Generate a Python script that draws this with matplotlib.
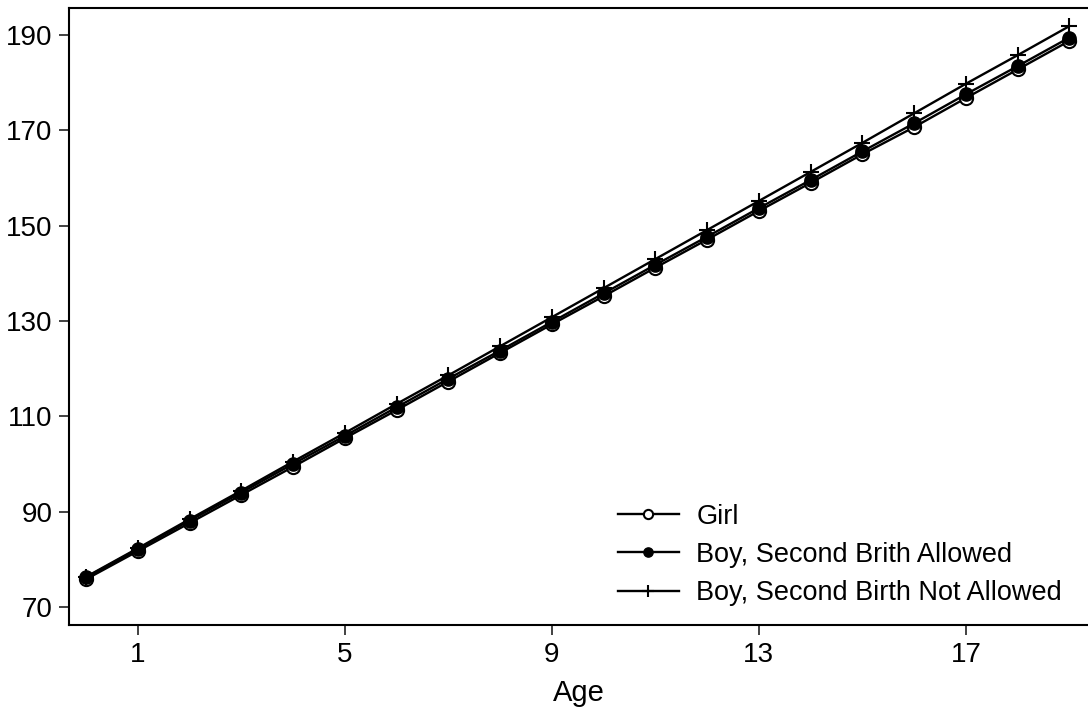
import matplotlib
matplotlib.use('Agg')
import matplotlib.pyplot as plt

plt.rcParams['font.family'] = ['Liberation Sans', 'DejaVu Sans']

# ages and predicted heights for each group
age = list(range(0, 20))
girl = [75.8, 81.7, 87.6, 93.5, 99.4, 105.4, 111.3, 117.3, 123.3, 129.3,
        135.2, 141.2, 147.1, 153.1, 159.0, 165.0, 170.7, 176.8, 182.8, 188.8]
boy_allowed = [76.2, 82.1, 88.1, 94.0, 100.0, 105.9, 111.9, 117.9, 123.8, 129.8,
               135.8, 141.8, 147.7, 153.7, 159.6, 165.6, 171.5, 177.6, 183.5, 189.5]
boy_not_allowed = [76.3, 82.3, 88.4, 94.4, 100.5, 106.5, 112.6, 118.6, 124.7, 130.8,
                   136.9, 143.0, 149.1, 155.2, 161.3, 167.4, 173.6, 179.8, 185.8, 191.9]
labels = ['Girl', 'Boy, Second Brith Allowed', 'Boy, Second Birth Not Allowed']
xticks = [1, 5, 9, 13, 17]
yticks = [70, 90, 110, 130, 150, 170, 190]

fig = plt.figure(figsize=(10.88, 7.11), dpi=100)
ax = fig.add_axes([0.0634, 0.121, 0.9366, 0.8677])

ax.plot(age, girl, color='black', lw=1.7, marker='o', ms=9.5,
        mfc='white', mec='black', mew=1.5, label=labels[0])
ax.plot(age, boy_allowed, color='black', lw=1.7, marker='o', ms=9.5,
        mfc='black', mec='black', label=labels[1])
ax.plot(age, boy_not_allowed, color='black', lw=1.7, marker='+', ms=12,
        mew=1.5, label=labels[2])

ax.set_xlim(-0.33, 19.36)
ax.set_ylim(66.2, 195.7)
ax.set_xticks(xticks)
ax.set_yticks(yticks)
ax.tick_params(labelsize=20, length=7, width=1.3, direction='out', color='#333333', pad=5)
ax.set_xlabel('Age', fontsize=21, labelpad=8)
for s in ['left', 'bottom', 'top']:
    ax.spines[s].set_linewidth(1.5)
ax.spines['right'].set_visible(False)

ax.legend(loc='lower left', bbox_to_anchor=(0.528, 0.013), frameon=False,
          fontsize=19.5, handlelength=2.25, handletextpad=0.65, labelspacing=0.45,
          markerscale=0.7, borderaxespad=0)

fig.savefig('out.png')
